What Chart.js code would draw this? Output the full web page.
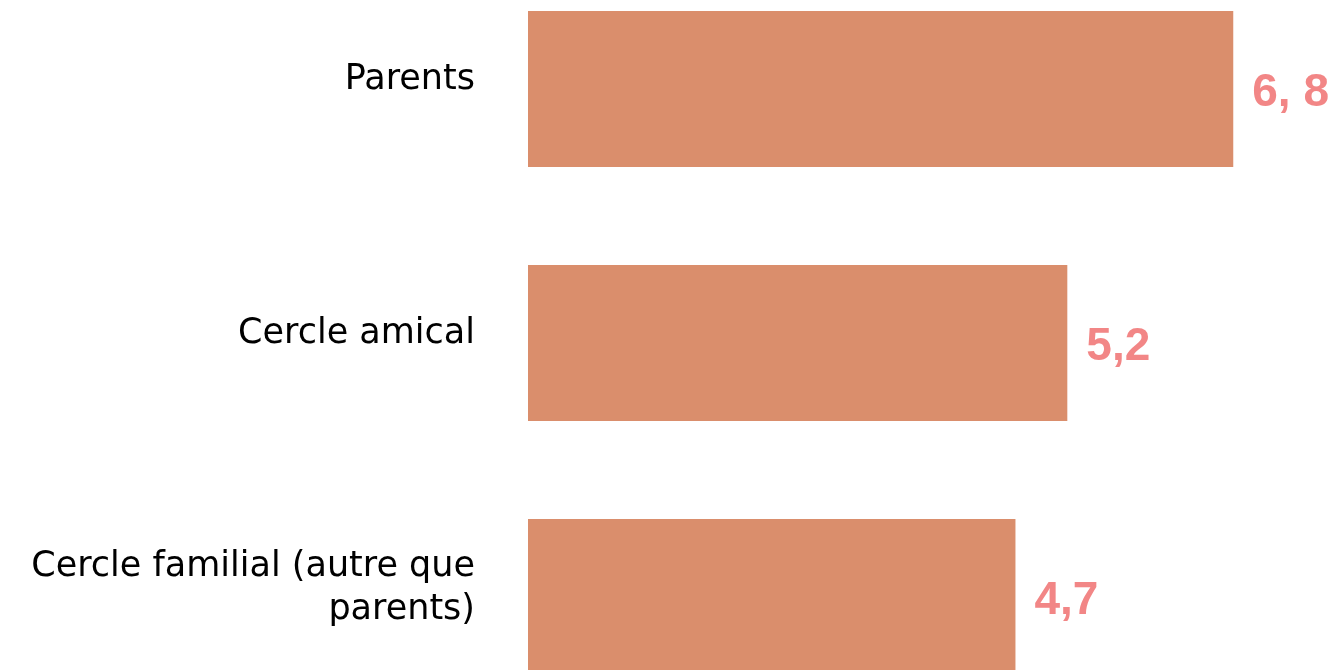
<!DOCTYPE html>
<html>
<head>
<meta charset="utf-8">
<script src="https://cdn.jsdelivr.net/npm/chart.js@4"></script>
<style>
    html, body { margin: 0; padding: 0; background: #fff; overflow: hidden; }
    canvas { position: absolute; left: 0; top: -38px; }
</style>
</head>
<body>
<canvas class="bar-chart" width="1335" height="762"></canvas>
<script>
const categories = [
    "Parents",
    "Cercle amical",
    ["Cercle familial (autre que", "parents)"]
];
const values = [6.8, 5.2, 4.7];
const valueLabels = ["6, 8", "5,2", "4,7"];

// draws the pink value text next to each bar
const valueLabelPlugin = {
    id: 'valueLabels',
    afterDatasetsDraw(chart) {
        const ctx = chart.ctx;
        const meta = chart.getDatasetMeta(0);
        ctx.save();
        ctx.font = 'bold 46px "Liberation Sans", Arial, sans-serif';
        ctx.fillStyle = '#F28686';
        ctx.textAlign = 'left';
        ctx.textBaseline = 'middle';
        meta.data.forEach((bar, i) => {
            ctx.fillText(valueLabels[i], bar.x + 19, bar.y + 4);
        });
        ctx.restore();
    }
};

const barChart = new Chart(
    document.getElementsByClassName('bar-chart'),
    {
        type: "bar",
        data: {
            labels: categories,
            datasets: [
                {
                    data: values,
                    backgroundColor: '#DA8E6C',
                    borderWidth: 0,
                    barPercentage: 0.614,
                    categoryPercentage: 1
                }
            ]
        },
        plugins: [valueLabelPlugin],
        options: {
            indexAxis: 'y',
            responsive: false,
            animation: false,
            layout: {
                padding: { left: 0, right: 81, top: 0, bottom: 0 }
            },
            plugins: {
                legend: { display: false },
                tooltip: { enabled: false }
            },
            scales: {
                x: {
                    min: 0,
                    max: 7,
                    display: false
                },
                y: {
                    afterFit(scale) {
                        scale.width = 528;
                        // tick padding would otherwise push the bars inward
                        scale.paddingTop = 0;
                        scale.paddingBottom = 0;
                    },
                    ticks: {
                        color: '#000',
                        padding: 53,
                        labelOffset: -9,
                        font: {
                            family: '"DejaVu Sans", sans-serif',
                            size: 35,
                            lineHeight: 1.23
                        }
                    },
                    grid: { display: false, drawTicks: false },
                    border: { display: false }
                }
            }
        }
    });
</script>
</body>
</html>
